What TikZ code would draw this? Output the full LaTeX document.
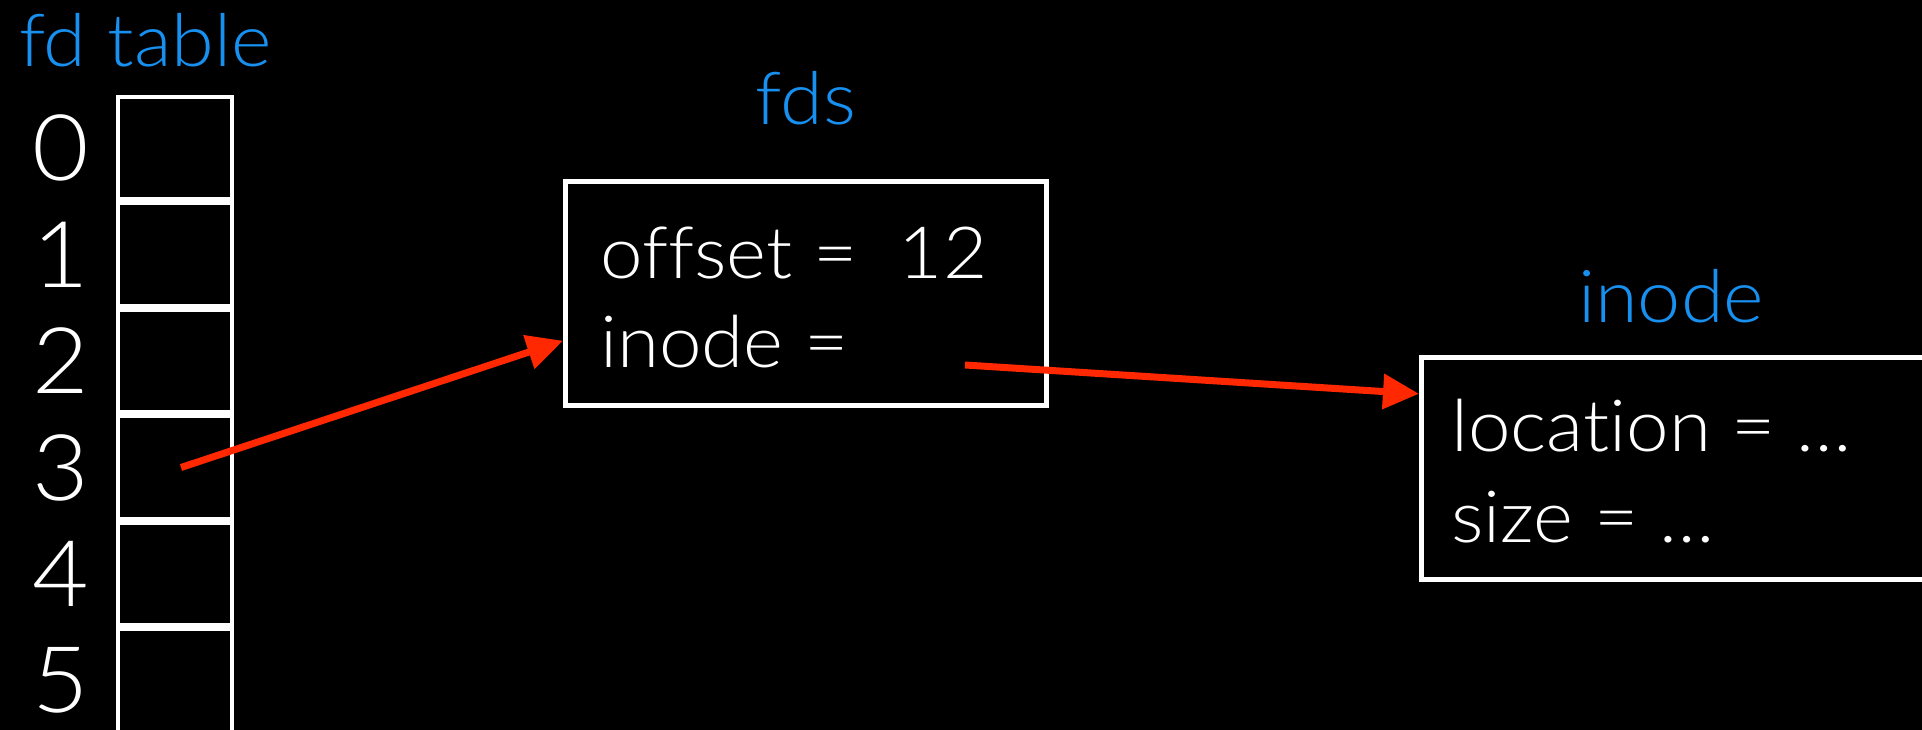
\documentclass[tikz,border=0pt]{standalone}
\usepackage{fontspec}
\setmainfont{Lato Light}[Ligatures={NoCommon}, FakeStretch=1.06]
\usepackage{xcolor}
\usepackage{tikz}
\usetikzlibrary{arrows.meta}

\definecolor{labelblue}{RGB}{24,144,240}
\definecolor{ptrred}{RGB}{255,40,0}

\begin{document}
\begin{tikzpicture}[x=1pt, y=-1pt, node distance={106.5pt},
    cell/.style = {draw=white, line width=4pt, minimum width=114pt, minimum height=102.5pt},
    idx/.style = {text=white, inner sep=0pt, font=\fontsize{92}{92}\selectfont},
    recbox/.style = {draw=white, line width=5pt},
    title/.style = {text=labelblue, anchor=base, inner sep=0pt, font=\fontsize{73}{73}\selectfont},
    field/.style = {text=white, anchor=base west, inner sep=0pt, font=\fontsize{72}{72}\selectfont},
    ptr/.style = {draw=ptrred, line width=7pt, -{Triangle[length=36pt,width=34pt]}}]
    \useasboundingbox (0,0) rectangle (1922,730);
    \fill[black] (0,0) rectangle (1922,730);
    \clip (0,0) rectangle (1922,730);

    % fd table
    \node[title, anchor=base west] (fdtitle) at (19,67) {fd table};
    \node[cell] (c0) at (175,148) {};
    \node[cell] (c1) [below of=c0] {};
    \node[cell] (c2) [below of=c1] {};
    \node[cell] (c3) [below of=c2] {};
    \node[cell] (c4) [below of=c3] {};
    \node[cell] (c5) [below of=c4] {};
    \node[idx, node distance=114pt] (n0) [left of=c0] {0};
    \node[idx, node distance=114pt] (n1) [left of=c1] {1};
    \node[idx, node distance=114pt] (n2) [left of=c2] {2};
    \node[idx, node distance=114pt] (n3) [left of=c3] {3};
    \node[idx, node distance=114pt] (n4) [left of=c4] {4};
    \node[idx, node distance=114pt] (n5) [left of=c5] {5};

    % open file entry
    \node[title] (fdstitle) at (806,125) {fds};
    \node[recbox, minimum width=481pt, minimum height=224pt] (fdsbox) at (806,293.5) {};
    \node[field] (offset) at (600,278) {offset = \ 12};
    \node[field] (inodef) at (600,367) {inode =};
    \coordinate (inodeptr) at (965,365);

    % inode
    \node[title] (inodetitle) at (1671,322) {inode};
    \node[recbox, minimum width=516pt, minimum height=222pt] (inodebox) at (1679.5,468.5) {};
    \node[field] (location) at (1451,451) {location = …};
    \node[field] (size) at (1451,542) {size = …};

    \draw[ptr] ([xshift=6pt]c3.center) -- (fdsbox.191);
    \draw[ptr] (inodeptr) -- (inodebox.164);
\end{tikzpicture}
\end{document}
